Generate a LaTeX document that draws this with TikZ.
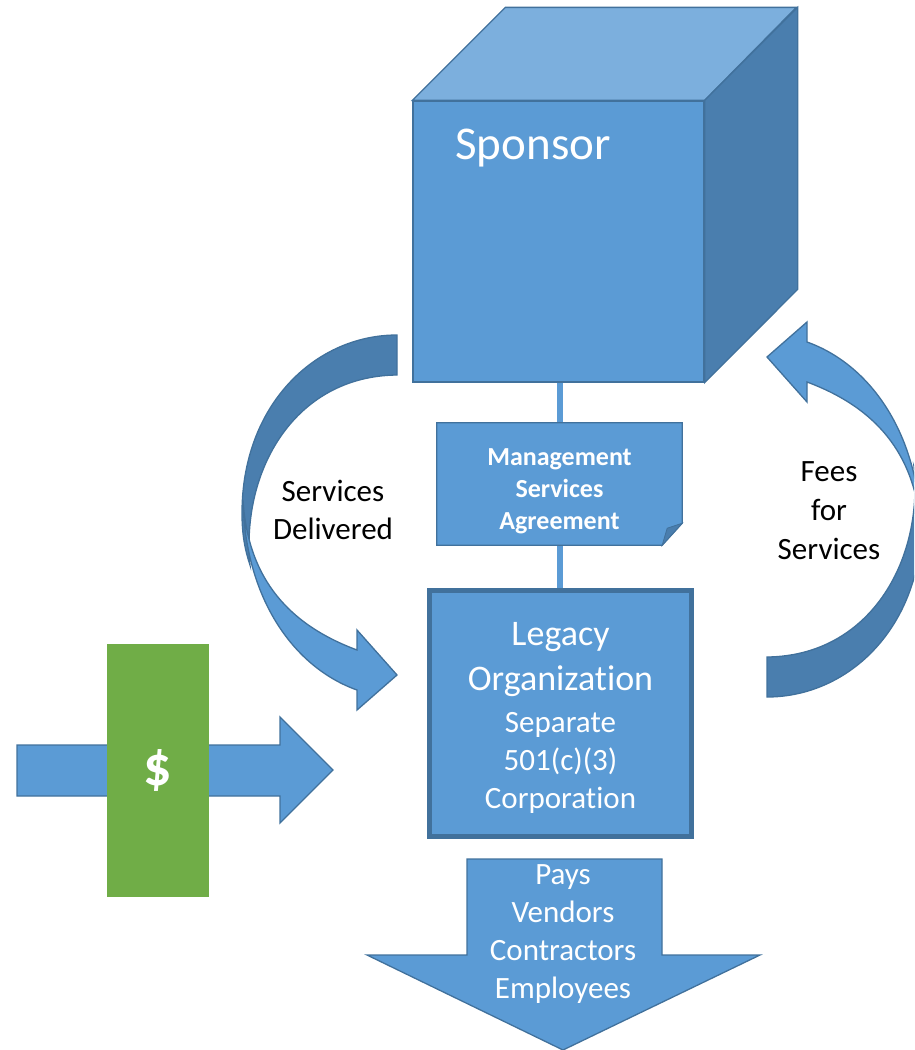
\documentclass[tikz,border=0pt]{standalone}
\usepackage{fontspec}
\setmainfont{Carlito}[Ligatures=NoCommon]
\usetikzlibrary{backgrounds}
\definecolor{fillblue}{HTML}{5B9BD5}
\definecolor{edgeblue}{HTML}{41719C}
\definecolor{topblue}{HTML}{7CAFDD}
\definecolor{sideblue}{HTML}{4A7EAE}
\definecolor{moneygreen}{HTML}{70AD47}
\newcommand\bentarrowshape{%
  \draw[darkpart] (397,335) .. controls (315,335) and (242,405) .. (242,513)
    .. controls (242,535) and (245,550) .. (250,565)
    .. controls (241,470) and (295,376) .. (397,375) -- cycle;
  \draw[shapefill] (243,500) .. controls (245,600) and (295,668) .. (357,690)
    -- (357,710) -- (397,675) -- (357,630) -- (357,650)
    .. controls (290,625) and (248,580) .. (243,500) -- cycle;
}
\newcommand\bigline{\fontsize{36}{38}\selectfont}
\newcommand\smallline{\fontsize{31}{38}\selectfont}
\begin{document}
\begin{tikzpicture}[x=1pt,y=-1pt,
  shapefill/.style={fill=fillblue,draw=edgeblue,line width=1.3pt,line join=miter},
  darkpart/.style={fill=sideblue,draw=edgeblue,line width=1.3pt},
  whitetext/.style={text=white,align=center,inner sep=0pt},
  blacktext/.style={text=black,align=center,inner sep=0pt},
  link/.style={draw=fillblue,line width=6pt}]
\clip (0,0) rectangle (914,1050);

% Sponsor cube
\node[shapefill, minimum width=291pt, minimum height=281pt, inner sep=0pt] (sponsor) at (558.5,241.5) {};
\draw[shapefill, fill=topblue] (sponsor.north west) -- ++(93,-93) -- ++(291,0) -- (sponsor.north east) -- cycle;
\draw[shapefill, fill=sideblue] (sponsor.north east) -- ++(93,-93) -- ++(0,282) -- (sponsor.south east) -- cycle;
\node[whitetext, font=\fontsize{47}{56}\selectfont, anchor=base] (sponsorlabel) at (533,159) {Sponsor};

% Management Services Agreement (document shape)
\node[minimum width=245pt, minimum height=122pt, inner sep=0pt] (msa) at (559.5,484) {};
\draw[shapefill] (msa.north west) -- (msa.north east) -- ([yshift=22pt]msa.south east)
  -- ([xshift=-20pt]msa.south east) -- (msa.south west) -- cycle;
\draw[darkpart, line width=0.8pt] ([xshift=-20pt]msa.south east) -- ([xshift=-15pt,yshift=17pt]msa.south east)
  -- ([yshift=22pt]msa.south east) -- cycle;
\node[whitetext, font=\bfseries\fontsize{26}{32}\selectfont] (msalabel) at (559.5,491) {Management\\Services\\Agreement};

% Legacy organization
\node[draw=edgeblue, fill=fillblue, line width=5pt, minimum width=262pt, minimum height=246pt, inner sep=0pt] (legacy) at (560.5,713.5) {};
\node[whitetext, font=\smallline] (legacylabel) at (560.5,718)
  {\bigline Legacy\\[7pt]\bigline Organization\\[4pt]\smallline Separate\\\smallline 501(c)(3)\\\smallline Corporation};

% connectors
\begin{scope}[on background layer]
\draw[link] (sponsor.south -| msa.north) -- (msa.north);
\draw[link] (msa.south) -- (msa.south |- legacy.north);
\end{scope}

% curved arrows
\bentarrowshape
\begin{scope}[rotate around={180:(582,516)}]
\bentarrowshape
\end{scope}
\node[blacktext, font=\fontsize{31}{38}\selectfont] (deliveredlabel) at (333,510) {Services\\Delivered};
\node[blacktext, font=\fontsize{31}{39}\selectfont] (feeslabel) at (829,511) {Fees\\for\\Services};

% incoming money arrow
\draw[shapefill] (17,745) -- (280,745) -- (280,717) -- (333,770) -- (280,823) -- (280,796) -- (17,796) -- cycle;
\node[fill=moneygreen, minimum width=102pt, minimum height=253pt, inner sep=0pt, text=white,
  font=\bfseries\fontsize{56}{60}\selectfont] (cash) at (158,770.5) {\$};

% pays arrow
\draw[shapefill] (467,859) -- (662,859) -- (662,955) -- (760,955) -- (563,1050) -- (367,955) -- (467,955) -- cycle;
\node[whitetext, font=\fontsize{31}{37.7}\selectfont] (payslabel) at (563,934) {Pays\\Vendors\\Contractors\\Employees};
\end{tikzpicture}
\end{document}
